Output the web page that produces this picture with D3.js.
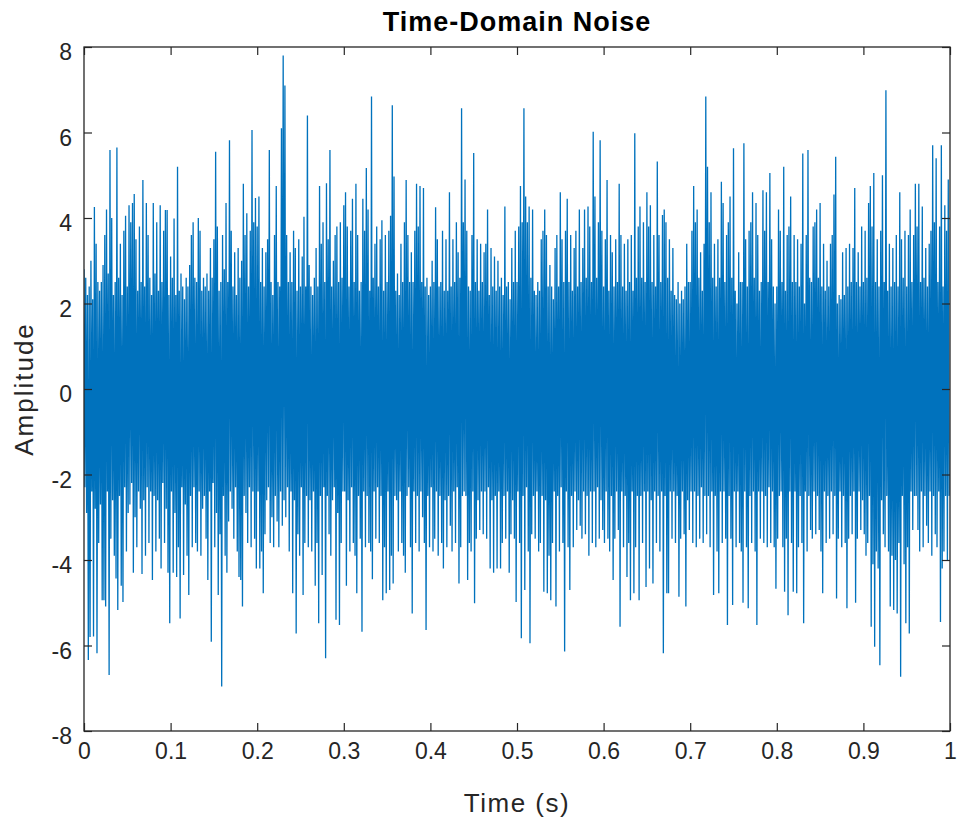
<!DOCTYPE html>
<html>
<head>
<meta charset="utf-8">
<script src="https://cdn.jsdelivr.net/npm/d3@7"></script>
<style>
  body { margin: 0; background: #fff; }
  svg { display: block; }
  .axis text { font-family: "Liberation Sans", Arial, sans-serif; font-size: 23px; fill: #262626; }
  .axis path { display: none; }
  .axis line { stroke: #262626; stroke-width: 1.2; }
</style>
</head>
<body>
<div id="chart"></div>
<script>
// sampled noise, fs = 1000 Hz, 1 s long
var fs = 1000;
var amplitude = [
  2.8,-2.3,2.6,-2.9,2.2,-6.34,2.4,-5.8,3.0,-2.4,2.1,-5.79,4.26,-2.8,3.4,-6.18,2.5,-3.6,2.3,-2.7,
  2.5,-4.94,2.9,-4.94,3.6,-5.09,4.2,-2.4,2.7,-6.69,5.59,-3.5,4.0,-2.6,2.2,-3.9,2.5,-4.43,5.65,-5.17,
  2.6,-2.5,3.4,-4.6,2.2,-4.98,3.7,-2.3,4.05,-3.8,2.4,-2.9,4.3,-2.7,3.9,-2.2,4.35,-4.3,4.56,-3.0,
  3.5,-3.7,2.3,-2.4,3.8,-2.8,2.5,-4.33,4.89,-2.6,2.4,-3.9,4.35,-2.3,3.6,-3.6,2.6,-2.4,2.2,-4.47,
  4.35,-2.5,2.7,-3.8,3.9,-2.6,2.3,-3.5,4.3,-4.2,2.5,-2.2,3.7,-3.6,4.19,-2.8,4.19,-4.3,2.2,-5.48,
  3.1,-2.4,2.6,-4.3,3.99,-2.9,2.2,-4.4,5.2,-3.7,2.3,-5.37,2.7,-2.3,2.4,-4.35,2.1,-2.7,2.6,-3.9,
  2.4,-4.82,2.9,-2.5,3.6,-3.7,3.9,-2.3,2.6,-3.6,2.5,-3.8,4.0,-2.4,3.7,-3.9,2.3,-2.8,2.6,-2.5,
  2.4,-3.5,2.7,-4.47,2.3,-2.4,3.3,-5.91,2.6,-2.2,3.5,-3.7,5.55,-2.9,3.8,-4.82,2.3,-3.4,2.5,-6.96,
  3.6,-2.5,2.8,-3.9,4.35,-4.3,2.5,-3.1,5.82,-2.4,3.7,-2.8,2.4,-3.5,3.2,-2.3,2.2,-3.8,3.3,-4.4,
  2.6,-4.47,3.0,-5.09,4.8,-2.5,3.6,-2.9,4.11,-3.6,2.4,-2.3,3.7,-3.7,6.06,-2.4,3.9,-3.5,4.47,-4.2,
  3.8,-2.4,4.5,-4.2,2.5,-3.8,3.3,-4.78,2.4,-3.4,3.2,-2.6,3.5,-2.3,5.59,-3.6,2.5,-3.0,2.2,-3.7,
  3.6,-2.5,4.75,-3.1,2.5,-3.7,2.4,-2.4,6.1,-3.2,7.8,-2.6,7.1,-3.0,3.6,-2.3,2.5,-3.8,3.2,-2.4,
  2.5,-4.78,3.7,-2.6,3.3,-5.72,2.3,-3.4,3.5,-3.9,2.4,-2.3,3.1,-4.82,4.03,-3.6,2.4,-2.5,6.4,-3.7,
  2.9,-2.6,2.4,-3.8,2.2,-2.4,2.6,-4.6,3.3,-3.6,2.4,-5.48,4.75,-2.5,3.4,-4.35,3.9,-2.3,2.5,-6.3,
  4.81,-2.5,3.5,-3.4,5.59,-3.9,2.4,-2.6,3.0,-2.3,3.6,-5.4,3.8,-2.9,2.5,-5.52,3.9,-3.6,2.6,-2.4,
  4.3,-2.4,4.6,-4.6,3.8,-2.6,2.4,-3.8,3.7,-2.3,4.45,-3.6,2.5,-3.9,4.8,-4.78,3.6,-2.5,2.3,-3.5,
  2.5,-5.68,4.45,-2.4,3.7,-3.7,5.17,-2.5,4.2,-3.6,2.3,-3.8,6.84,-4.45,2.6,-2.4,3.4,-3.5,3.8,-2.3,
  2.4,-3.6,3.5,-2.5,3.95,-4.94,2.3,-3.7,3.6,-4.78,2.5,-2.4,3.7,-4.7,4.05,-3.9,6.64,-4.55,4.97,-2.5,
  2.3,-2.6,2.7,-3.8,2.2,-2.4,3.4,-3.6,2.5,-3.9,3.9,-4.3,4.89,-2.5,3.6,-2.3,2.5,-3.7,3.2,-5.25,
  2.5,-2.4,3.7,-3.6,4.8,-2.5,3.8,-3.8,4.75,-2.4,2.5,-3.0,4.7,-3.6,2.4,-5.64,2.6,-2.5,2.2,-3.7,
  2.4,-2.3,3.0,-3.8,2.5,-3.5,4.25,-2.4,3.5,-3.9,2.4,-2.5,2.5,-3.6,3.7,-4.2,2.3,-2.6,3.5,-3.7,
  2.3,-2.5,4.6,-3.2,2.4,-3.8,3.5,-2.4,2.5,-3.6,3.9,-2.3,3.2,-4.55,2.6,-3.7,6.57,-2.5,3.9,-2.4,
  4.9,-2.5,3.7,-4.47,2.4,-3.6,2.3,-3.8,3.6,-2.4,5.52,-5.01,2.5,-3.5,3.5,-2.6,2.3,-3.3,3.4,-2.4,
  2.5,-3.4,3.2,-2.4,3.4,-3.5,4.2,-2.3,2.2,-4.2,3.3,-2.6,2.4,-4.3,3.1,-2.5,2.3,-4.2,3.0,-2.4,
  2.4,-4.2,2.6,-3.6,2.2,-2.5,4.27,-3.5,2.4,-2.4,2.5,-4.3,2.1,-3.4,3.3,-2.6,2.5,-3.5,3.7,-4.98,
  2.5,-2.4,3.8,-3.6,4.75,-5.83,3.9,-2.5,6.57,-4.7,4.5,-2.3,3.9,-3.8,4.27,-5.95,2.6,-3.4,4.2,-2.5,
  2.3,-3.5,2.2,-2.4,2.5,-3.8,2.3,-3.6,3.5,-2.5,3.7,-4.74,4.2,-2.6,3.6,-4.78,2.4,-3.9,2.9,-4.94,
  2.4,-3.6,2.1,-2.4,3.3,-5.09,3.6,-2.5,2.4,-3.8,4.6,-2.3,3.5,-3.6,2.5,-6.14,3.7,-2.4,4.45,-3.7,
  2.5,-4.7,3.6,-2.5,2.3,-3.7,3.3,-2.4,3.7,-3.3,2.4,-2.6,4.2,-3.2,2.5,-3.5,3.3,-2.4,4.2,-3.4,
  2.6,-2.5,4.27,-3.9,3.8,-2.4,2.5,-3.6,6.02,-2.4,4.5,-3.7,2.6,-2.3,3.9,-3.5,5.82,-2.6,3.7,-3.3,
  2.4,-3.6,3.5,-2.4,4.89,-3.5,2.3,-3.8,3.6,-2.5,3.2,-4.47,2.4,-3.5,3.5,-2.4,2.5,-3.3,4.8,-5.56,
  3.6,-2.4,2.4,-3.7,3.4,-2.5,2.3,-4.4,3.5,-3.6,2.5,-4.94,3.6,-2.4,2.3,-4.78,5.98,-3.7,2.6,-2.5,
  3.8,-4.94,4.27,-2.5,2.6,-3.6,3.9,-2.4,2.5,-4.63,4.6,-2.4,3.8,-4.2,4.3,-2.6,2.5,-4.55,3.6,-2.4,
  2.4,-3.6,5.32,-2.5,3.6,-3.8,2.5,-2.4,4.07,-6.18,4.2,-2.5,3.9,-4.78,2.6,-4.78,3.5,-2.4,2.3,-3.5,
  3.3,-2.4,2.2,-3.6,2.1,-2.5,2.5,-4.86,2.0,-3.5,2.3,-2.4,2.1,-3.4,2.4,-5.09,3.4,-2.6,2.5,-3.3,
  2.5,-2.4,3.7,-3.6,4.75,-2.4,3.9,-3.7,4.2,-2.5,2.6,-3.5,3.2,-2.3,2.3,-3.6,3.4,-2.5,6.84,-3.4,
  5.2,-2.5,3.9,-3.7,4.6,-2.4,2.6,-4.82,3.4,-2.5,2.4,-3.8,3.5,-4.78,2.6,-2.4,4.85,-3.6,4.35,-2.4,
  2.5,-3.5,3.6,-5.52,3.9,-2.5,4.5,-3.5,2.6,-5.05,5.63,-2.4,2.3,-3.7,2.0,-2.4,3.2,-3.6,2.5,-3.8,
  2.5,-5.0,5.75,-2.4,3.5,-3.7,2.4,-5.13,3.7,-2.5,3.9,-3.6,4.6,-2.4,2.6,-3.8,4.35,-5.52,3.6,-2.4,
  2.3,-3.5,2.5,-2.4,4.65,-3.6,3.7,-2.5,4.6,-3.7,2.5,-2.3,5.05,-3.6,3.5,-2.4,2.4,-3.7,2.0,-4.67,
  2.4,-3.5,4.2,-2.5,3.7,-2.4,2.5,-3.7,5.2,-4.74,2.3,-3.5,3.6,-5.29,3.8,-2.4,4.5,-3.6,2.5,-4.74,
  3.6,-2.4,2.5,-4.78,3.5,-3.7,2.4,-2.5,3.4,-3.6,5.51,-5.48,2.0,-2.4,3.6,-3.8,5.59,-2.5,2.6,-3.3,
  2.5,-3.5,3.8,-2.4,3.9,-3.4,4.2,-2.5,2.6,-3.3,4.35,-3.8,2.4,-4.78,3.4,-2.4,2.3,-3.6,3.0,-2.5,
  2.4,-3.5,3.4,-2.4,3.6,-3.4,4.55,-2.5,5.43,-4.9,2.0,-3.5,2.2,-2.4,2.1,-3.7,3.2,-2.5,2.2,-3.6,
  3.3,-5.13,2.4,-3.5,3.4,-2.5,2.5,-3.4,3.3,-2.4,4.7,-5.0,2.5,-3.5,3.2,-2.4,2.4,-3.3,3.8,-2.6,
  2.5,-3.4,3.7,-3.9,2.6,-3.6,4.35,-2.5,4.75,-5.56,3.8,-4.1,5.05,-6.03,2.5,-3.8,3.5,-4.2,2.4,-6.46,
  3.7,-2.6,5.0,-3.4,2.5,-3.7,6.99,-2.5,2.3,-3.8,3.4,-5.09,2.4,-3.9,3.3,-5.17,2.5,-4.0,3.6,-5.25,
  2.4,-3.6,4.6,-6.73,3.5,-2.5,2.6,-4.1,3.7,-5.48,2.4,-3.7,3.6,-5.72,4.2,-2.4,2.5,-3.3,3.6,-2.5,
  4.8,-2.5,3.8,-3.3,4.8,-3.8,2.5,-2.4,4.27,-3.7,2.6,-2.5,3.3,-3.2,2.4,-3.6,3.4,-2.4,3.7,-3.9,
  5.7,-2.5,3.9,-3.4,5.4,-3.7,2.5,-2.4,3.8,-5.45,5.7,-4.2,2.4,-3.8,4.3,-2.5,3.7,-4.0,4.9,-2.5
];
var xTicks = [0, 0.1, 0.2, 0.3, 0.4, 0.5, 0.6, 0.7, 0.8, 0.9, 1];
var yTicks = [-8, -6, -4, -2, 0, 2, 4, 6, 8];
var titleText = "Time-Domain Noise",
    xLabel = "Time (s)",
    yLabel = "Amplitude";

var W = 958, H = 823;
var margin = {top: 47, right: 8, bottom: 92, left: 84},
    width = W - margin.left - margin.right,
    height = H - margin.top - margin.bottom;

var data = amplitude.map(function(v, i) { return {t: i / fs, v: v}; });

var svg = d3.select("#chart")
  .append("svg")
    .attr("width", W)
    .attr("height", H);

var x = d3.scaleLinear().domain([0, 1]).range([0, width]);
var y = d3.scaleLinear().domain([-8, 8]).range([height, 0]);

var g = svg.append("g")
  .attr("transform", "translate(" + margin.left + "," + margin.top + ")");

svg.append("defs").append("clipPath")
    .attr("id", "clip")
  .append("rect")
    .attr("width", width)
    .attr("height", height);

var line = d3.line()
  .x(function(d) { return x(d.t); })
  .y(function(d) { return y(d.v); });

g.append("path")
  .datum(data)
  .attr("clip-path", "url(#clip)")
  .attr("fill", "none")
  .attr("stroke", "#0072BD")
  .attr("stroke-width", 1.3)
  .attr("stroke-linejoin", "bevel")
  .attr("d", line);

// matlab style: plain hyphen for negatives, ticks pointing inwards on all sides
var fmt = function(d) { return String(d); };

g.append("g")
  .attr("class", "axis")
  .attr("transform", "translate(0," + height + ")")
  .call(d3.axisBottom(x).tickValues(xTicks).tickFormat(fmt).tickSizeInner(-8).tickSizeOuter(0).tickPadding(12));

g.append("g")
  .attr("class", "axis")
  .call(d3.axisTop(x).tickValues(xTicks).tickFormat("").tickSizeInner(-8).tickSizeOuter(0));

g.append("g")
  .attr("class", "axis")
  .call(d3.axisLeft(y).tickValues(yTicks).tickFormat(fmt).tickSizeInner(-8).tickSizeOuter(0).tickPadding(12))
  .selectAll("text").attr("dy", "0.55em");

g.append("g")
  .attr("class", "axis")
  .attr("transform", "translate(" + width + ",0)")
  .call(d3.axisRight(y).tickValues(yTicks).tickFormat("").tickSizeInner(-8).tickSizeOuter(0));

g.append("rect")
  .attr("width", width)
  .attr("height", height)
  .attr("fill", "none")
  .attr("stroke", "#262626")
  .attr("stroke-width", 1.3);

svg.append("text")
  .attr("x", margin.left + width / 2)
  .attr("y", 31)
  .attr("text-anchor", "middle")
  .style("font-family", "'Liberation Sans', Arial, sans-serif")
  .style("font-size", "27px")
  .style("font-weight", "bold")
  .style("letter-spacing", "1px")
  .style("fill", "#000")
  .text(titleText);

svg.append("text")
  .attr("x", margin.left + width / 2)
  .attr("y", 812)
  .attr("text-anchor", "middle")
  .style("font-family", "'Liberation Sans', Arial, sans-serif")
  .style("font-size", "26px")
  .style("letter-spacing", "1.5px")
  .style("fill", "#262626")
  .text(xLabel);

svg.append("text")
  .attr("transform", "translate(33," + (margin.top + height / 2) + ") rotate(-90)")
  .attr("text-anchor", "middle")
  .style("font-family", "'Liberation Sans', Arial, sans-serif")
  .style("font-size", "26px")
  .style("letter-spacing", "2px")
  .style("fill", "#262626")
  .text(yLabel);
</script>
</body>
</html>
